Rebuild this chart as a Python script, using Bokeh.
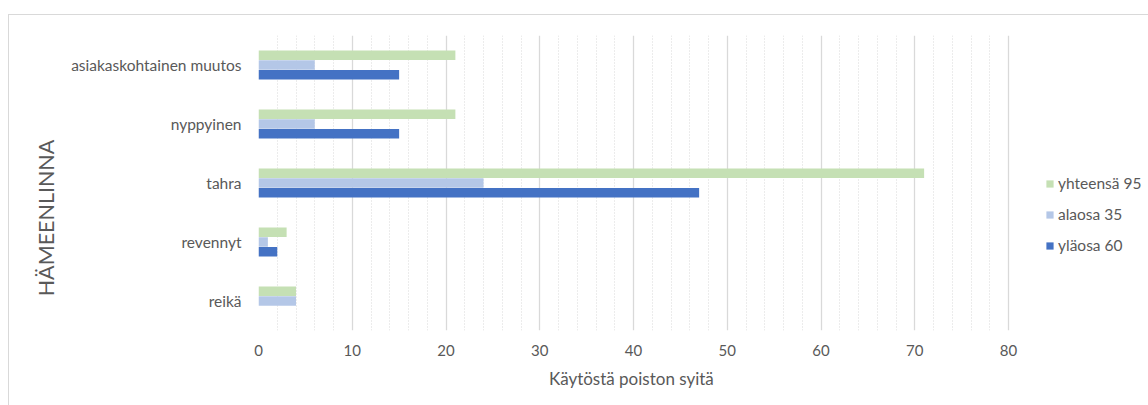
from bokeh.plotting import figure
from bokeh.models import (FactorRange, Range1d, FixedTicker, Legend,
                          LegendItem, ColumnDataSource)
from bokeh.transform import dodge
from bokeh.embed import file_html
from bokeh.resources import INLINE

categories = ["asiakaskohtainen muutos", "nyppyinen", "tahra", "revennyt", "reikä"]
yhteensa = [21, 21, 71, 3, 4]
alaosa = [6, 6, 24, 1, 4]
ylaosa = [15, 15, 47, 2, 0]
series_names = ["yhteensä 95", "alaosa 35", "yläosa 60"]
series_colors = ["#c5e0b4", "#b4c7e7", "#4472c4"]
x_ticks = [0, 10, 20, 30, 40, 50, 60, 70, 80]
x_minor_ticks = [v for v in range(0, 81, 2) if v % 10 != 0]
x_title = "Käytöstä poiston syitä"
y_title = "HÄMEENLINNA"

FONT = "Lato"
TXT = "#595959"
GRID = "#d9d9d9"
EMSP = "\u2003"  # trailing em spaces shift the centred axis titles like the original
NBSP = "\u00a0"

source = ColumnDataSource(dict(cat=categories, yht=yhteensa, ala=alaosa, yla=ylaosa))

W, H = 1140, 391
ML, MR, MT, MB = 249, 5, 20, 76
px_per_unit = 9.375
x_end = (W - ML - MR) / px_per_unit

p = figure(width=W, height=H,
           y_range=FactorRange(*reversed(categories)),
           x_range=Range1d(0, x_end),
           output_backend="svg", toolbar_location=None,
           min_border_left=ML, min_border_right=MR,
           min_border_top=MT, min_border_bottom=MB)
p.outline_line_color = None
p.margin = (14, 0, 0, 8)
p.styles = {"border-left": "1px solid #d9d9d9", "border-top": "1px solid #d9d9d9"}

bh = 0.164
renderers = []
for col, off, color in zip(["yht", "ala", "yla"], [0.165, 0.0, -0.165], series_colors):
    r = p.hbar(y=dodge("cat", off, range=p.y_range), left=0, right=col, height=bh,
               source=source, fill_color=color, line_color=None)
    renderers.append(r)

# grid
p.xaxis.ticker = FixedTicker(ticks=x_ticks, minor_ticks=x_minor_ticks)
p.xgrid.grid_line_color = GRID
p.xgrid.grid_line_width = 1.3
p.xgrid.minor_grid_line_color = GRID
p.xgrid.minor_grid_line_dash = "1 2"
p.xgrid.minor_grid_line_width = 1
p.ygrid.visible = False

# x axis
xa = p.xaxis[0]
xa.bounds = (0, 80)
xa.axis_line_color = None
xa.major_tick_line_color = None
xa.minor_tick_line_color = None
xa.major_tick_out = 0
xa.minor_tick_out = 0
xa.major_tick_in = 0
xa.major_label_standoff = 14
xa.major_label_text_font = FONT
xa.major_label_text_font_size = "15px"
xa.major_label_text_color = TXT
xa.axis_label = x_title + EMSP * 11
xa.axis_label_text_font = FONT
xa.axis_label_text_font_size = "17px"
xa.axis_label_text_font_style = "normal"
xa.axis_label_text_color = TXT
xa.axis_label_standoff = 9

# y axis (the x=0 grid line forms the vertical axis line)
ya = p.yaxis[0]
ya.axis_line_color = None
ya.major_tick_line_color = None
ya.minor_tick_line_color = None
ya.major_tick_out = 0
ya.major_tick_in = 0
ya.major_label_standoff = 17
ya.major_label_text_font = FONT
ya.major_label_text_font_size = "15.5px"
ya.major_label_text_color = TXT
ya.axis_label = y_title + EMSP * 4 + NBSP
ya.axis_label_text_font = FONT
ya.axis_label_text_font_size = "21.5px"
ya.axis_label_text_font_style = "normal"
ya.axis_label_text_color = TXT
ya.axis_label_standoff = 9

legend = Legend(items=[LegendItem(label=n, renderers=[r]) for n, r in zip(series_names, renderers)],
                location=(787, 75), orientation="vertical",
                border_line_color=None, background_fill_alpha=0,
                padding=0, margin=0, spacing=11,
                glyph_height=9, glyph_width=9, label_height=20,
                label_standoff=4, label_text_font=FONT,
                label_text_font_size="15.5px", label_text_color=TXT)
p.add_layout(legend)

open("out.html", "w").write(file_html(p, INLINE))
